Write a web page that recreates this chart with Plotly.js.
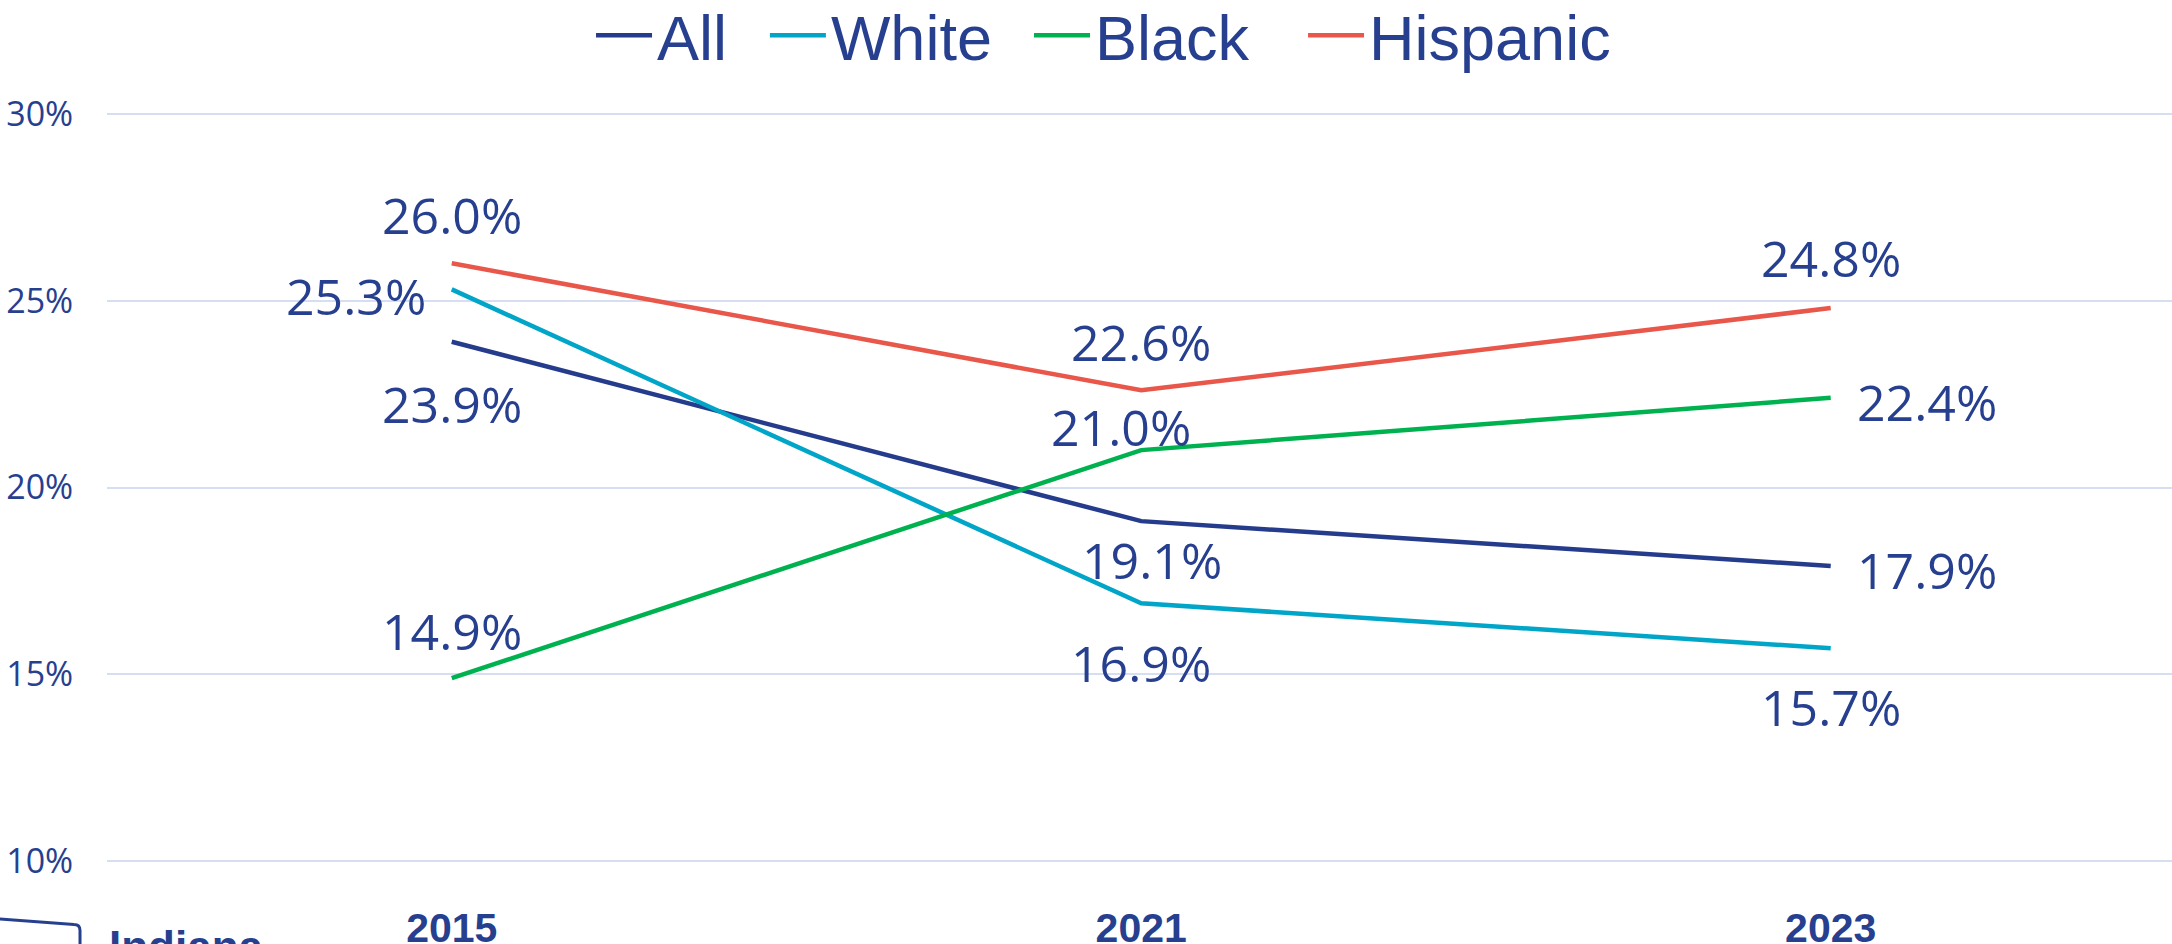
<!DOCTYPE html>
<html>
<head>
<meta charset="utf-8">
<script src="https://cdn.plot.ly/plotly-3.0.1.min.js"></script>
<style>html,body{margin:0;padding:0;background:#fff;}#chart{width:2172px;height:944px;}</style>
</head>
<body>
<div id="chart"></div>
<script>
// ---- data ----
const years = ['2015', '2021', '2023'];
const seriesNames = ['All', 'White', 'Black', 'Hispanic'];
const allValues = [23.9, 19.1, 17.9];
const whiteValues = [25.3, 16.9, 15.7];
const blackValues = [14.9, 21.0, 22.4];
const hispanicValues = [26.0, 22.6, 24.8];
const yTickVals = [10, 15, 20, 25, 30];
const yTickText = ['10%', '15%', '20%', '25%', '30%'];

// ---- styling ----
const TEXT = '#273F8F';
const colors = ['#253B8B', '#00A5C8', '#00B14F', '#E9564A'];
const seriesValues = [allValues, whiteValues, blackValues, hispanicValues];
const legendIds = ['legend', 'legend2', 'legend3', 'legend4'];
const legendX = [0.2344, 0.3186, 0.4465, 0.5792];
// per-label placement: [xanchor, xshift, yshift]
const labelPlace = [
  [['center', 0, -62], ['center', 11, -39], ['left', 24, -4]],
  [['right', -24, -7], ['center', 0, -60], ['center', 0, -59]],
  [['center', 0, 47], ['center', -20, 23], ['left', 24, -4]],
  [['center', 0, 48], ['center', 0, 48], ['center', 0, 50]]
];

const traces = seriesNames.map((name, i) => ({
  type: 'scatter', mode: 'lines', name: name,
  x: years, y: seriesValues[i],
  legend: legendIds[i],
  line: {color: colors[i], width: 4.5},
  cliponaxis: false, hoverinfo: 'skip'
}));

const annotations = [];
seriesValues.forEach((vals, i) => {
  vals.forEach((v, j) => {
    const p = labelPlace[i][j];
    annotations.push({
      x: j, y: v, xref: 'x', yref: 'y',
      text: v.toFixed(1) + '%', showarrow: false,
      xanchor: p[0], yanchor: 'middle', xshift: p[1], yshift: p[2],
      font: {family: 'Open Sans', size: 50, color: TEXT}
    });
  });
});
// partial logo text at bottom-left
annotations.push({
  x: 0, y: -0.0735, xref: 'paper', yref: 'paper', xanchor: 'left', yanchor: 'top',
  text: '<b>Indiana</b>', showarrow: false,
  font: {family: 'Liberation Sans', size: 44, color: TEXT}
});

const layout = {
  width: 2172, height: 944,
  margin: {l: 107, r: 0, t: 109.76, b: 78.56, pad: 0, autoexpand: false},
  paper_bgcolor: '#ffffff', plot_bgcolor: '#ffffff',
  showlegend: true,
  xaxis: {
    type: 'category', range: [-0.5, 2.495],
    showgrid: false, zeroline: false, showline: false,
    ticks: 'outside', ticklen: 27, tickcolor: 'rgba(0,0,0,0)',
    tickfont: {family: 'Liberation Sans', size: 41, color: TEXT, weight: 'bold'},
    fixedrange: true
  },
  yaxis: {
    range: [9.9, 30.1],
    tickvals: yTickVals, ticktext: yTickText,
    showgrid: true, gridcolor: '#D6DFF2', gridwidth: 2,
    zeroline: false, showline: false,
    ticks: 'outside', ticklen: 26, tickcolor: 'rgba(0,0,0,0)',
    tickfont: {family: 'Open Sans', size: 34, color: TEXT},
    fixedrange: true
  },
  annotations: annotations,
  shapes: [{
    type: 'path', xref: 'paper', yref: 'paper',
    path: 'M -0.0542 -0.0709 L -0.016 -0.0788 Q -0.01307 -0.0788 -0.01307 -0.0867 L -0.01307 -0.1251',
    line: {color: TEXT, width: 3}
  }]
};
legendIds.forEach((id, i) => {
  layout[id] = {
    orientation: 'h', x: legendX[i], xanchor: 'left', y: 1.099, yanchor: 'middle',
    font: {family: 'Liberation Sans', size: 63, color: TEXT},
    itemwidth: 56, bgcolor: 'rgba(0,0,0,0)'
  };
});

Plotly.newPlot('chart', traces, layout, {displayModeBar: false, staticPlot: true});
</script>
</body>
</html>
